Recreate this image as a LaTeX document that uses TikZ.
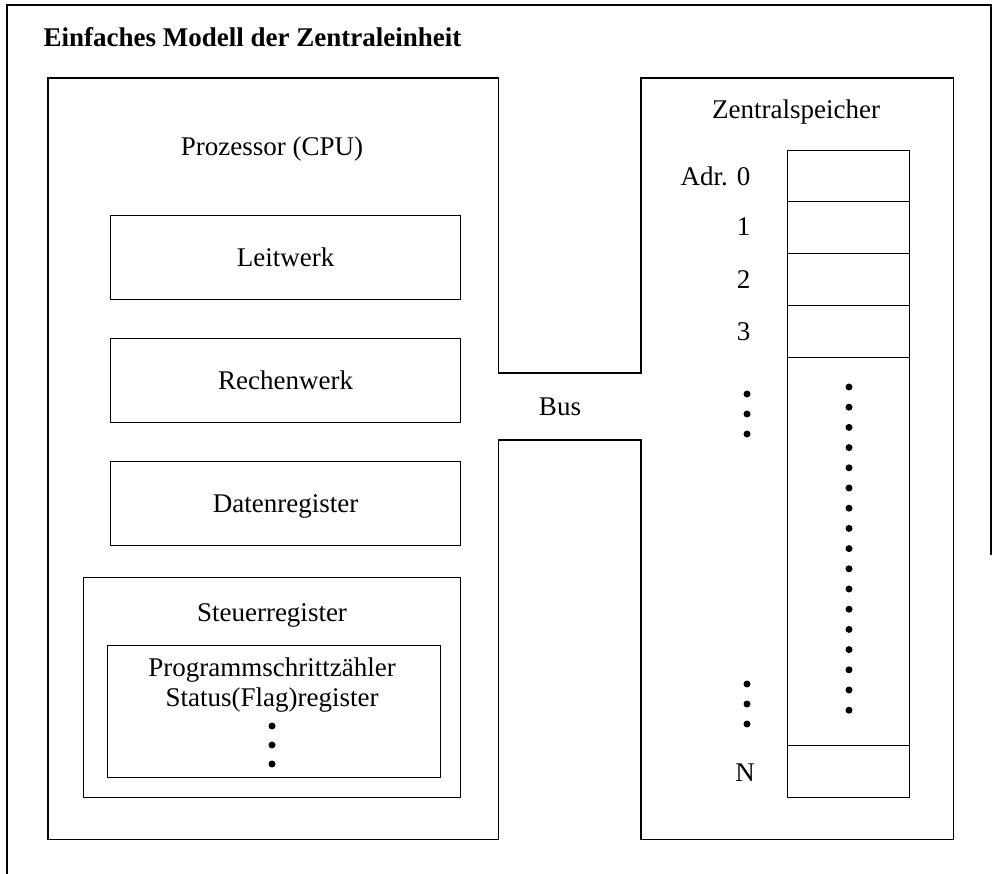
\documentclass[tikz,border=0pt]{standalone}
\usepackage{fontspec}
\setmainfont{Liberation Serif}
\begin{document}
\begin{tikzpicture}[x=1pt,y=-1pt,
  line width=1.2pt,
  box/.style={draw, rectangle, inner sep=0pt, anchor=north west},
  hole/.style={rectangle, inner sep=0pt, anchor=north west},
  lbl/.style={inner sep=0pt, anchor=base, font=\fontsize{27}{30}\selectfont},
  rlbl/.style={inner sep=0pt, anchor=base east, font=\fontsize{27}{30}\selectfont},
  ttl/.style={inner sep=0pt, anchor=base west, font=\fontsize{27}{30}\selectfont\bfseries},
  dot/.style={fill, circle, inner sep=0pt, minimum size=7pt}]
\useasboundingbox (0,0) rectangle (997,874);
% outer frame (open at bottom)
\draw (7,874) -- (7,5) -- (991,5) -- (991,555);
\node[ttl] (title) at (43,47) {Einfaches Modell der Zentraleinheit};
% processor and memory outlines, joined by the bus
\node[hole, minimum width=449pt, minimum height=760pt] (proc) at (48,78) {};
\node[hole, minimum width=311pt, minimum height=760pt] (mem) at (641,78) {};
\coordinate (bustop) at (0,373);
\coordinate (busbot) at (0,440);
\draw (proc.north east |- bustop) -- (proc.north east) -- (proc.north west)
  -- (proc.south west) -- (proc.south east) -- (proc.south east |- busbot)
  -- (mem.south west |- busbot) -- (mem.south west) -- (mem.south east)
  -- (mem.north east) -- (mem.north west) -- (mem.north west |- bustop)
  -- cycle;
\node[lbl] (bus) at (560,416) {Bus};
% processor contents
\node[lbl] (cpu) at (272,156) {Prozessor (CPU)};
\node[box, minimum width=350pt, minimum height=84pt] (leit) at (110,215) {};
\node[lbl] at (leit.center) [yshift=-9pt] {Leitwerk};
\node[box, minimum width=350pt, minimum height=84pt] (rech) at (110,338) {};
\node[lbl] at (rech.center) [yshift=-9pt] {Rechenwerk};
\node[box, minimum width=350pt, minimum height=84pt] (daten) at (110,461) {};
\node[lbl] at (daten.center) [yshift=-9pt] {Datenregister};
\node[box, minimum width=377pt, minimum height=220pt] (steuer) at (83,577) {};
\node[lbl] (steuert) at (272,621) {Steuerregister};
\node[box, minimum width=333pt, minimum height=132pt] (inner) at (107,645) {};
\node[lbl] (psz) at (272,676) {Programmschrittzähler};
\node[lbl] (stat) at (272,706) {Status(Flag)register};
\node[dot] (id1) at (272,726) {};
\node[dot] (id2) at (272,745) {};
\node[dot] (id3) at (272,764) {};
% memory contents
\node[lbl] (zs) at (796,119) {Zentralspeicher};
\node[box, minimum width=122pt, minimum height=51pt] (c0) at (787,150) {};
\node[box, minimum width=122pt, minimum height=52pt] (c1) at (787,201) {};
\node[box, minimum width=122pt, minimum height=52pt] (c2) at (787,253) {};
\node[box, minimum width=122pt, minimum height=52pt] (c3) at (787,305) {};
\node[box, minimum width=122pt, minimum height=388pt] (cd) at (787,357) {};
\node[box, minimum width=122pt, minimum height=52pt] (cN) at (787,745) {};
\node[rlbl] (a0) at (751,186) {Adr. 0};
\node[rlbl] (a1) at (751,236) {1};
\node[rlbl] (a2) at (751,289) {2};
\node[rlbl] (a3) at (751,341) {3};
\node[lbl] (aN) at (745,781) {N};
\foreach \i in {0,...,16} {
  \node[dot] (md\i) at (849,{387+20.2*\i}) {};
}
\foreach \y [count=\k] in {394,414,434} {
  \node[dot] (la\k) at (747,\y) {};
}
\foreach \y [count=\k] in {684,704,724} {
  \node[dot] (lb\k) at (747,\y) {};
}
\end{tikzpicture}
\end{document}
